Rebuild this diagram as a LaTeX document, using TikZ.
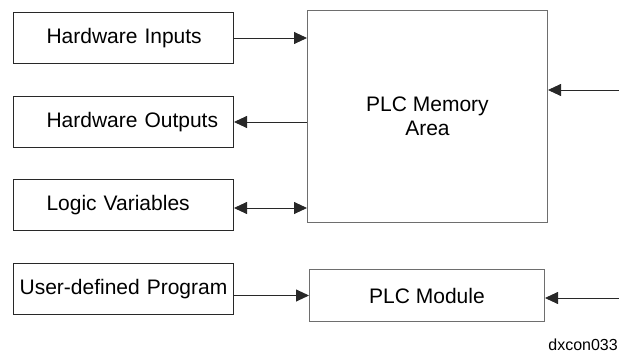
\documentclass[tikz,border=0pt]{standalone}
\usepackage{fontspec}
\setmainfont{Liberation Sans}
\usepackage{tikz}
\usetikzlibrary{arrows.meta}
\usetikzlibrary{calc}
\definecolor{linegray}{RGB}{40,40,40}
\definecolor{boxgray}{RGB}{110,110,110}
\tikzset{
  srcbox/.style={draw=linegray, line width=1pt, anchor=north west, minimum height=51pt,
    text width=154pt, inner xsep=33pt, align=left, font=\fontsize{21}{24}\selectfont},
  plcbox/.style={draw=boxgray, line width=1pt, anchor=north west, align=center,
    inner sep=0pt, font=\fontsize{21}{24}\selectfont},
  tip/.tip={Triangle[length=13pt,width=12pt]},
  flow/.style={draw=linegray, line width=0.9pt, -tip}
}
\newcommand\srcnode[3]{
  \node[srcbox] (#1) at (13,#2) {\mbox{#3}};
}

\begin{document}
\begin{tikzpicture}[x=1pt,y=-1pt]
\useasboundingbox (0,0) rectangle (619,353);
\srcnode{hwin}{12}{Hardware Inputs};
\srcnode{hwout}{96}{Hardware Outputs};
\srcnode{logic}{179}{Logic Variables};
\node[srcbox, inner xsep=4pt, text width=212pt, align=center] (user) at (13,263) {User-defined Program};

\node[plcbox, minimum width=240pt, minimum height=212pt] (mem) at (307,10) {PLC Memory\\Area};
\node[plcbox, minimum width=235pt, minimum height=52pt] (mod) at (309,269) {PLC Module};

\coordinate (ext1) at (619,90);
\coordinate (ext2) at (619,298);
\coordinate (lv) at ($(logic.east)+(0,3)$);

%arrows into and out of the memory area
\draw[flow] (hwin.east) -- (hwin.east -| mem.west);
\draw[flow] (hwout.east -| mem.west) -- (hwout.east);
\draw[flow, tip-tip] (lv) -- (lv -| mem.west);
\draw[flow] (ext1) -- (ext1 -| mem.east);
%program to module
\draw[flow] (user.east |- mod.west) -- (mod.west);
\draw[flow] (ext2) -- (ext2 -| mod.east);

\node[anchor=base east, font=\fontsize{16}{18}\selectfont, inner sep=0pt] (tag) at (618,350) {dxcon033};
\end{tikzpicture}
\end{document}
